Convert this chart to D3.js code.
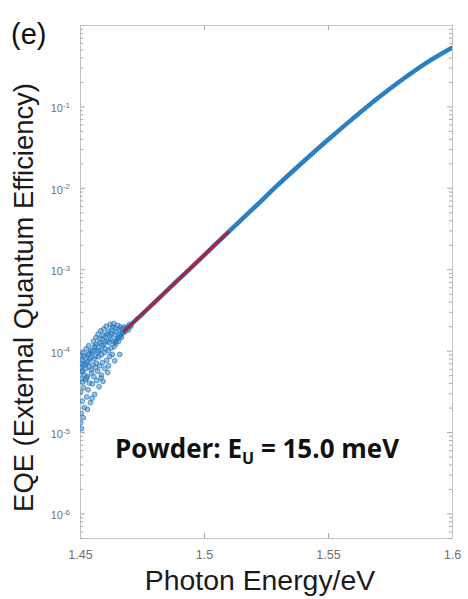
<!DOCTYPE html>
<html>
<head>
<meta charset="utf-8">
<script src="https://cdn.jsdelivr.net/npm/d3@7"></script>
<style>
  body { margin: 0; background: #fff; }
  svg { display: block; }
</style>
</head>
<body>
<svg id="chart" width="468" height="599"></svg>
<script>
// Measured EQE spectrum (dense part of the curve)
const energy = [1.464, 1.467, 1.470, 1.475, 1.480, 1.490, 1.500, 1.510, 1.520, 1.530,
                1.540, 1.550, 1.560, 1.570, 1.580, 1.590, 1.600];
const eqe    = [1.25e-4, 1.6e-4, 2.0e-4, 2.8e-4, 3.9e-4, 7.6e-4, 1.48e-3, 2.9e-3, 5.62e-3, 1.10e-2,
                2.09e-2, 3.89e-2, 7.08e-2, 1.26e-1, 2.14e-1, 3.47e-1, 5.25e-1];

// Urbach fit over the exponential tail
const fitEnergy = [1.4675, 1.510];
const fitEqe    = [1.7e-4, 2.9e-3];

// Noisy sub-gap points near the detection floor
const scatterEnergy = [
  1.4501, 1.4502, 1.4503, 1.4504, 1.4505, 1.4507, 1.4508, 1.4509, 1.4511, 1.4512,
  1.4514, 1.4515, 1.4517, 1.4518, 1.4520, 1.4522, 1.4523, 1.4525, 1.4527, 1.4528,
  1.4530, 1.4532, 1.4533, 1.4535, 1.4537, 1.4538, 1.4540, 1.4542, 1.4543, 1.4545,
  1.4547, 1.4549, 1.4550, 1.4552, 1.4554, 1.4556, 1.4557, 1.4559, 1.4561, 1.4563,
  1.4564, 1.4566, 1.4568, 1.4570, 1.4571, 1.4573, 1.4575, 1.4577, 1.4578, 1.4580,
  1.4582, 1.4584, 1.4586, 1.4587, 1.4589, 1.4591, 1.4593, 1.4595, 1.4596, 1.4598,
  1.4600, 1.4602, 1.4604, 1.4606, 1.4608, 1.4610, 1.4612, 1.4614, 1.4616, 1.4618,
  1.4620, 1.4622, 1.4624, 1.4626, 1.4628, 1.4630, 1.4632, 1.4634, 1.4636, 1.4638,
  1.4640, 1.4642, 1.4645, 1.4647, 1.4650, 1.4652, 1.4655, 1.4658, 1.4661, 1.4664,
  1.4667, 1.4670, 1.4674, 1.4678, 1.4682, 1.4686, 1.4690, 1.4695, 1.4700, 1.4705,
  1.4506, 1.4516, 1.4521, 1.4531, 1.4536, 1.4544, 1.4551, 1.4558, 1.4562, 1.4567,
  1.4574, 1.4579, 1.4588, 1.4594, 1.4601, 1.4609, 1.4619, 1.4627, 1.4512, 1.4526,
  1.4503, 1.4506, 1.4513, 1.4530, 1.4548, 1.4585, 1.4615, 1.4640, 1.4660];
const scatterEqe = [
  6.2e-5, 3.1e-5, 8.8e-5, 4.5e-5, 1.7e-5, 5.5e-5, 7.6e-5, 2.4e-5, 4.1e-5, 9.6e-5,
  6.6e-5, 3.5e-5, 2.0e-5, 5.0e-5, 8.1e-5, 4.4e-5, 6.0e-5, 1.05e-4, 2.7e-5, 7.0e-5,
  4.8e-5, 8.9e-5, 3.3e-5, 1.15e-4, 6.3e-5, 4.0e-5, 7.8e-5, 2.3e-5, 9.9e-5, 5.8e-5,
  5.3e-5, 9.4e-5, 3.9e-5, 6.7e-5, 1.3e-4, 4.8e-5, 8.0e-5, 2.9e-5, 1.1e-4, 6.2e-5,
  1.45e-4, 7.0e-5, 4.3e-5, 9.6e-5, 5.6e-5, 1.6e-4, 8.4e-5, 3.6e-5, 1.22e-4, 6.5e-5,
  1.02e-4, 1.75e-4, 5.0e-5, 8.9e-5, 1.38e-4, 7.1e-5, 4.2e-5, 1.18e-4, 1.85e-4, 9.5e-5,
  6.0e-5, 1.5e-4, 1.05e-4, 2.0e-4, 7.6e-5, 1.3e-4, 5.4e-5, 1.0e-4, 1.72e-4, 1.25e-4,
  8.5e-5, 2.1e-4, 1.4e-4, 1.08e-4, 1.62e-4, 9.0e-5, 1.95e-4, 1.3e-4, 2.15e-4, 1.12e-4,
  1.58e-4, 1.9e-4, 1.22e-4, 1.7e-4, 1.42e-4, 2.05e-4, 1.3e-4, 1.8e-4, 1.55e-4, 1.95e-4,
  1.45e-4, 1.85e-4, 1.68e-4, 1.95e-4, 1.72e-4, 1.88e-4, 1.95e-4, 1.8e-4, 2.1e-4, 2.0e-4,
  7.0e-5, 8.6e-5, 6.8e-5, 7.3e-5, 9.1e-5, 8.2e-5, 1.0e-4, 1.12e-4, 8.6e-5, 1.2e-4,
  1.0e-4, 1.4e-4, 1.15e-4, 1.55e-4, 1.28e-4, 1.6e-4, 1.5e-4, 1.78e-4, 5.6e-5, 4.6e-5,
  1.3e-5, 1.1e-5, 1.5e-5, 1.9e-5, 2.6e-5, 4.6e-5, 6.5e-5, 7.5e-5, 9.0e-5];

// Axis ticks
const xTicks = [1.45, 1.5, 1.55, 1.6];
const xTickLabels = ["1.45", "1.5", "1.55", "1.6"];
const yTicks = [1e-6, 1e-5, 1e-4, 1e-3, 1e-2, 1e-1];
const yTickExponents = ["-6", "-5", "-4", "-3", "-2", "-1"];

const margin = { left: 80, right: 16, top: 25, bottom: 61 };
const W = 468, H = 599;
const plotW = W - margin.left - margin.right;
const plotH = H - margin.top - margin.bottom;

const svg = d3.select("#chart");
const x = d3.scaleLinear().domain([1.45, 1.6]).range([margin.left, margin.left + plotW]);
const y = d3.scaleLog().domain([5e-7, 1]).range([margin.top + plotH, margin.top]);

const axisColor = "#c4c4c4";
const labelColor = "#707070";

// Minor log ticks
const minorTicks = [];
for (let p = -7; p <= -1; p++) {
  for (let k = 2; k <= 9; k++) {
    const v = k * Math.pow(10, p);
    if (v >= 5e-7 && v <= 1) minorTicks.push(v);
  }
}

function styleAxis(g) {
  g.select(".domain").attr("stroke", axisColor).attr("stroke-width", 1);
  g.selectAll(".tick line").attr("stroke", "#a8a8a8");
}

// Box: bottom / top
const gx = svg.append("g")
  .attr("transform", `translate(0,${margin.top + plotH})`)
  .call(d3.axisBottom(x).tickValues(xTicks).tickFormat((d, i) => xTickLabels[i])
        .tickSizeInner(-5).tickSizeOuter(0).tickPadding(12))
  .call(styleAxis);
gx.selectAll(".tick text")
  .attr("fill", labelColor).attr("font-size", 12.5)
  .attr("font-family", "'Liberation Sans', Arial, sans-serif");

svg.append("g")
  .attr("transform", `translate(0,${margin.top})`)
  .call(d3.axisTop(x).tickValues(xTicks).tickFormat("").tickSizeInner(-5).tickSizeOuter(0))
  .call(styleAxis);

// Left axis with superscript labels
const gy = svg.append("g")
  .attr("transform", `translate(${margin.left},0)`)
  .call(d3.axisLeft(y).tickValues(yTicks).tickFormat("").tickSizeInner(-5).tickSizeOuter(0).tickPadding(10))
  .call(styleAxis);
gy.selectAll(".tick text").each(function (d, i) {
  const t = d3.select(this);
  t.attr("fill", labelColor).attr("font-size", 11)
   .attr("font-family", "'Liberation Sans', Arial, sans-serif")
   .attr("dy", "0.5em");
  t.append("tspan").text("10");
  t.append("tspan").attr("dy", "-0.55em").attr("font-size", 8).text(yTickExponents[i]);
});

svg.append("g")
  .attr("transform", `translate(${margin.left},0)`)
  .call(d3.axisLeft(y).tickValues(minorTicks).tickFormat("").tickSizeInner(-3).tickSizeOuter(0))
  .call(styleAxis);

// Right side
svg.append("g")
  .attr("transform", `translate(${margin.left + plotW},0)`)
  .call(d3.axisRight(y).tickValues(yTicks).tickFormat("").tickSizeInner(-5).tickSizeOuter(0))
  .call(styleAxis);
svg.append("g")
  .attr("transform", `translate(${margin.left + plotW},0)`)
  .call(d3.axisRight(y).tickValues(minorTicks).tickFormat("").tickSizeInner(-3).tickSizeOuter(0))
  .call(styleAxis);

// Clip to the axes box
svg.append("clipPath").attr("id", "plotClip")
  .append("rect").attr("x", margin.left).attr("y", margin.top)
  .attr("width", plotW).attr("height", plotH);
const plot = svg.append("g").attr("clip-path", "url(#plotClip)");

// Scatter points
const scatter = scatterEnergy.map((e, i) => ({ e, v: scatterEqe[i] }));
plot.selectAll("circle.pt").data(scatter).join("circle")
  .attr("class", "pt")
  .attr("cx", d => x(d.e)).attr("cy", d => y(d.v))
  .attr("r", 2.4)
  .attr("fill", "#3d8fd3").attr("fill-opacity", 0.55)
  .attr("stroke", "#1a6bb0").attr("stroke-opacity", 0.7).attr("stroke-width", 0.9);

// Main curve
const line = d3.line().x(d => x(d[0])).y(d => y(d[1])).curve(d3.curveMonotoneX);
plot.append("path")
  .datum(energy.map((e, i) => [e, eqe[i]]))
  .attr("d", line)
  .attr("fill", "none").attr("stroke", "#2a80c2").attr("stroke-width", 4.5)
  .attr("stroke-linecap", "round");

// Urbach fit
plot.append("path")
  .datum(fitEnergy.map((e, i) => [e, fitEqe[i]]))
  .attr("d", d3.line().x(d => x(d[0])).y(d => y(d[1])))
  .attr("fill", "none").attr("stroke", "#a82540").attr("stroke-width", 3.2);

// Annotation
const ann = svg.append("text")
  .attr("x", 115).attr("y", 458)
  .attr("font-family", "'Open Sans', Lato, sans-serif")
  .attr("font-weight", 700).attr("font-size", 26).attr("fill", "#111");
ann.append("tspan").text("Powder: E");
ann.append("tspan").attr("font-size", 16).attr("dy", 6).text("U");
ann.append("tspan").attr("dy", -6).text(" = 15.0 meV");

// Axis titles
svg.append("text")
  .attr("x", 260).attr("y", 590)
  .attr("text-anchor", "middle")
  .attr("font-family", "'Liberation Sans', Arial, sans-serif")
  .attr("font-size", 28.4).attr("fill", "#1a1a1a")
  .text("Photon Energy/eV");

svg.append("text")
  .attr("transform", `translate(33,${(78 + 517) / 2}) rotate(-90)`)
  .attr("text-anchor", "middle")
  .attr("font-family", "'Liberation Sans', Arial, sans-serif")
  .attr("font-size", 27.4).attr("fill", "#1a1a1a")
  .text("EQE (External Quantum Efficiency)");

// Panel label
svg.append("text")
  .attr("x", 11).attr("y", 44)
  .attr("font-family", "'Liberation Sans', Arial, sans-serif")
  .attr("font-size", 29).attr("fill", "#111")
  .text("(e)");
</script>
</body>
</html>
